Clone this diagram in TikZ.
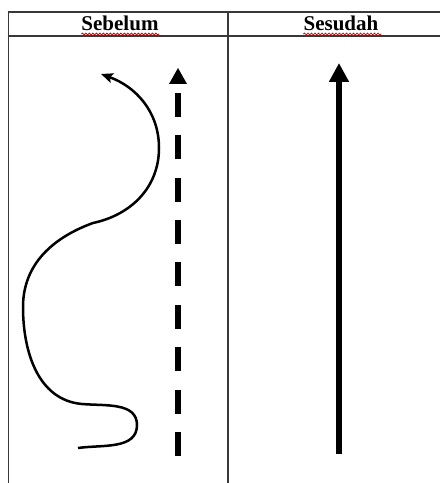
\documentclass[tikz,border=0pt]{standalone}
\usepackage{fontspec}
\setmainfont{Liberation Serif}
\usetikzlibrary{arrows.meta,decorations.pathmorphing}

\tikzset{
  rule/.style={draw=black!78, line width=1.8pt},
  head/.style={font=\fontsize{21}{24}\selectfont\bfseries, inner sep=0pt, anchor=base},
  squiggle/.style={draw=red!85!black, line width=0.8pt,
    decorate, decoration={snake, amplitude=0.9pt, segment length=3.5pt}},
  wander/.style={draw=black, line width=2.5pt,
    -{Stealth[length=12pt, width=10pt, inset=2.5pt]}},
  dashline/.style={draw=black, line width=6pt, dash pattern=on 24pt off 18.375pt},
  straight/.style={draw=black, line width=6pt, -{Triangle[length=19pt, width=19pt]}}
}

\begin{document}
\begin{tikzpicture}[x=1pt, y=1pt]
  \useasboundingbox (0,0) rectangle (440,483);

  % table frame
  \draw[rule] (7.6,471) -- (440,471);
  \draw[rule] (7.6,447) -- (440,447);
  \draw[rule] (8.5,471.9) -- (8.5,0);
  \draw[rule] (228,471.9) -- (228,0);

  % column headings
  \node[head] (before) at (120,452) {Sebelum};
  \node[head] (after)  at (341,452) {Sesudah};
  \draw[squiggle] (before.base west) ++(0,-3) -- ++(78,0);
  \draw[squiggle] (after.base west)  ++(0,-3) -- ++(78,0);

  % winding path
  \coordinate (w0) at (78,35);
  \coordinate (w1) at (137,58);
  \coordinate (w2) at (82,79);
  \coordinate (w3) at (23,176);
  \coordinate (w4) at (93,260);
  \coordinate (w5) at (159,335);
  \coordinate (w6) at (101,409);
  \draw[wander] (w0) to[out=8, in=-90] (w1)
                     to[out=90, in=-5] (w2)
                     to[out=175, in=-90] (w3)
                     to[out=90, in=200] (w4)
                     to[out=12, in=-90] (w5)
                     to[out=90, in=-20] (w6);

  % dashed arrow
  \coordinate (d0) at (178,27);
  \coordinate (d1) at (178,390);
  \coordinate (dtip) at (178,415);
  \draw[dashline] (d0) -- (d1);
  \fill (dtip) -- ++(-9,-16) -- ++(18,0) -- cycle;

  % straight arrow
  \coordinate (s0) at (339,29);
  \coordinate (s1) at (339,420);
  \draw[straight] (s0) -- (s1);
\end{tikzpicture}
\end{document}
